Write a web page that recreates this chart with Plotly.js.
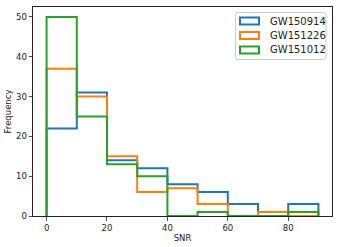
<!DOCTYPE html>
<html>
<head>
<meta charset="utf-8">
<script src="https://cdn.plot.ly/plotly-3.0.1.min.js"></script>
<style>html,body{margin:0;padding:0;background:#fff;}#chart{width:340px;height:247px;}</style>
</head>
<body>
<div id="chart"></div>
<script>
// Data
const binEdges = [0, 10, 20, 30, 40, 50, 60, 70, 80, 90];
const seriesNames = ["GW150914", "GW151226", "GW151012"];
const gw150914 = [22, 31, 14, 12, 8, 6, 3, 0, 3];
const gw151226 = [37, 30, 15, 6, 7, 3, 0, 1, 0];
const gw151012 = [50, 25, 13, 10, 0, 1, 0, 0, 1];
const xTicks = [0, 20, 40, 60, 80];
const yTicks = [0, 10, 20, 30, 40, 50];

const colors = ["#1f77b4", "#ff7f0e", "#2ca02c"];
const allCounts = [gw150914, gw151226, gw151012];

function stepTrace(counts, name, color) {
  const x = [binEdges[0]];
  const y = [0];
  for (let i = 0; i < counts.length; i++) { x.push(binEdges[i]); y.push(counts[i]); }
  x.push(binEdges[binEdges.length - 1]); y.push(counts[counts.length - 1]);
  x.push(binEdges[binEdges.length - 1]); y.push(0);
  return {x: x, y: y, type: "scatter", mode: "lines", name: name,
          line: {shape: "hv", color: color, width: 2}, showlegend: false, hoverinfo: "skip"};
}

const traces = allCounts.map((c, i) => stepTrace(c, seriesNames[i], colors[i]));

// figure geometry (px)
const W = 340, H = 247;
const m = {l: 33, r: 8, t: 7, b: 31};
const pw = W - m.l - m.r, ph = H - m.t - m.b;
const px = v => (v - m.l) / pw;
const py = v => 1 - (v - m.t) / ph;

// legend built from shapes/annotations
const shapes = [];
const annotations = [];
const lx0 = 235.5, lx1 = 326, ly0 = 12.5, ly1 = 59.5, r = 2.5;
const pathPx = `M${lx0 + r},${ly0} L${lx1 - r},${ly0} Q${lx1},${ly0} ${lx1},${ly0 + r} L${lx1},${ly1 - r} Q${lx1},${ly1} ${lx1 - r},${ly1} L${lx0 + r},${ly1} Q${lx0},${ly1} ${lx0},${ly1 - r} L${lx0},${ly0 + r} Q${lx0},${ly0} ${lx0 + r},${ly0} Z`;
const pathPaper = pathPx.replace(/(-?[\d.]+),(-?[\d.]+)/g, (s, a, b) => px(+a).toFixed(5) + "," + py(+b).toFixed(5));
shapes.push({type: "path", xref: "paper", yref: "paper", path: pathPaper,
             line: {color: "#cccccc", width: 1}, fillcolor: "rgba(255,255,255,0.85)", layer: "above"});
const rowY = [21, 35.5, 50];
seriesNames.forEach((n, i) => {
  shapes.push({type: "rect", xref: "paper", yref: "paper",
    x0: px(240), x1: px(259), y0: py(rowY[i] - 3.5), y1: py(rowY[i] + 3.5),
    line: {color: colors[i], width: 2}, fillcolor: "rgba(0,0,0,0)", layer: "above"});
  annotations.push({xref: "paper", yref: "paper", x: px(267.5), y: py(rowY[i]),
    xanchor: "left", yanchor: "middle", text: n, showarrow: false,
    font: {family: "DejaVu Sans", size: 10, color: "#222"}});
});

const axisCommon = {
  showgrid: false, zeroline: false, showline: true, linecolor: "#222", linewidth: 1, mirror: true,
  ticks: "outside", ticklen: 3.5, tickwidth: 0.8, tickcolor: "#222",
  tickfont: {family: "DejaVu Sans", size: 8.5, color: "#222"}
};

const layout = {
  width: W, height: H,
  margin: m,
  paper_bgcolor: "#fff", plot_bgcolor: "#fff",
  showlegend: false,
  xaxis: Object.assign({}, axisCommon, {range: [-4.5, 94.5], tickvals: xTicks, ticktext: xTicks.map(String),
    title: {text: "SNR", font: {family: "DejaVu Sans", size: 8.5, color: "#222"}, standoff: 3}}),
  yaxis: Object.assign({}, axisCommon, {range: [0, 52.5], tickvals: yTicks, ticktext: yTicks.map(String),
    title: {text: "Frequency", font: {family: "DejaVu Sans", size: 8.5, color: "#222"}, standoff: 2}}),
  shapes: shapes,
  annotations: annotations
};

Plotly.newPlot("chart", traces, layout, {displayModeBar: false, staticPlot: true});
</script>
</body>
</html>
